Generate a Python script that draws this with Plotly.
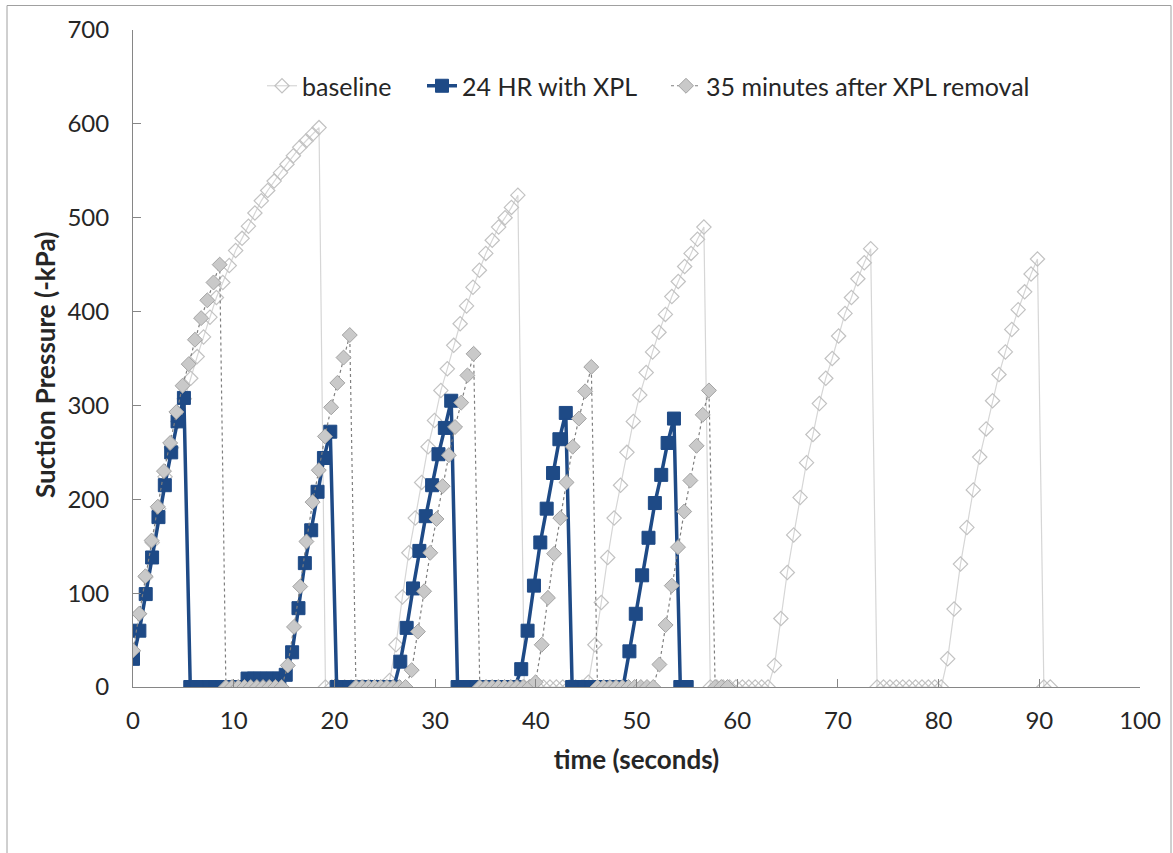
import numpy as np
import plotly.graph_objects as go

# Suction pressure logs (-kPa), one value per recorded sample
baseline_kpa = [
    38, 78, 117, 154, 190, 224, 255, 283, 307, 329, 352, 373, 394, 415, 431,
    449, 465, 478, 491, 505, 518, 529, 539, 548, 557, 566, 575, 582, 589, 596,
    0, 0, 0, 0, 0, 0, 0, 0, 0, 0,
    7, 45, 96, 143, 180, 218, 256, 284, 316, 339, 364, 387, 406, 426, 444,
    462, 476, 490, 500, 511, 524,
    0, 0, 0, 0, 0, 0, 0, 0, 0, 0,
    5, 45, 90, 138, 180, 215, 250, 283, 311, 335, 357, 378, 397, 416, 432,
    448, 462, 477, 490,
    0, 0, 0, 0, 0, 0, 0, 0, 0, 0,
    23, 73, 122, 162, 202, 239, 269, 302, 329, 350, 374, 398, 415, 435, 452, 467,
    0, 0, 0, 0, 0, 0, 0, 0, 0, 0, 0,
    30, 83, 131, 170, 210, 245, 275, 305, 333, 357, 381, 402, 421, 440, 456,
    0, 0,
]

xpl_24hr_kpa = [
    30, 60, 99, 138, 181, 215, 250, 283, 308,
    0, 0, 0, 0, 0, 0, 0, 0, 0,
    9, 9, 9, 9, 9, 9,
    13, 37, 84, 132, 167, 208, 244, 272,
    0, 0, 0, 0, 0, 0, 0, 0, 0, 0,
    27, 63, 105, 145, 182, 215, 248, 276, 305,
    0, 0, 0, 0, 0, 0, 0, 0, 0, 0,
    19, 60, 108, 154, 190, 228, 264, 292,
    0, 0, 0, 0, 0, 0, 0, 0, 0,
    38, 78, 119, 159, 196, 226, 260, 286,
    0, 0,
]

after_removal_kpa = [
    39, 78, 118, 156, 192, 230, 260, 293, 321, 344, 370, 393, 412, 431, 450,
    0, 0, 0, 0, 0, 0, 0, 0, 0, 0,
    23, 64, 107, 155, 197, 231, 267, 298, 324, 351, 375,
    0, 0, 0, 0, 0, 0, 0, 0, 0,
    18, 59, 102, 143, 179, 214, 247, 277, 303, 332, 355,
    0, 0, 0, 0, 0, 0, 0, 0, 0,
    5,
    45, 95, 142, 180, 218, 256, 286, 315, 341,
    0, 0, 0, 0, 0, 0, 0, 0, 0, 0,
    24, 66, 108, 149, 187, 220, 257, 290, 316,
    0, 0, 0,
]

# Logger sample intervals (seconds) for each recording
baseline_dt = 0.637
xpl_24hr_dt = 0.632
after_removal_dt = 0.615

series_names = ["baseline", "24 HR with XPL", "35 minutes after XPL removal"]

x_ticks = [0, 10, 20, 30, 40, 50, 60, 70, 80, 90, 100]
y_ticks = [0, 100, 200, 300, 400, 500, 600, 700]

FONT = "Lato, 'Open Sans', sans-serif"
AXIS_GREY = "#868686"
TEXT = "#262626"
BLUE = "#1E4A86"


def sample_times(values, dt):
    return np.arange(len(values)) * dt


fig = go.Figure()

fig.add_trace(go.Scatter(
    x=sample_times(baseline_kpa, baseline_dt), y=baseline_kpa,
    name=series_names[0], mode="lines+markers", legend="legend",
    line=dict(color="#D6D6D6", width=1.2),
    marker=dict(symbol="diamond-open", size=11, color="#C2C2C2",
                line=dict(color="#C2C2C2", width=1.2)),
))

fig.add_trace(go.Scatter(
    x=sample_times(xpl_24hr_kpa, xpl_24hr_dt), y=xpl_24hr_kpa,
    name=series_names[1], mode="lines+markers", legend="legend2",
    line=dict(color=BLUE, width=3.5),
    marker=dict(symbol="square", size=13, color=BLUE,
                line=dict(color=BLUE, width=1)),
))

fig.add_trace(go.Scatter(
    x=sample_times(after_removal_kpa, after_removal_dt), y=after_removal_kpa,
    name=series_names[2], mode="lines+markers", legend="legend3",
    line=dict(color="#7F7F7F", width=1.2, dash="3px,3px"),
    marker=dict(symbol="diamond", size=11.5, color="#C9C9C9",
                line=dict(color="#A3A3A3", width=1)),
))

# plot area: x 133..1140 px, y 30..687 px
W, H = 1173, 853
L, R, T, B = 133, 33, 30, 166
pw, ph = W - L - R, H - T - B


def px_to_paper(xp, yp):
    return (xp - L) / pw, (H - B - yp) / ph


bx0, by1 = px_to_paper(7, 5.5)
bx1, by0 = px_to_paper(1171, 900)
ax, ay = px_to_paper(0, 3)
ytx, yty = px_to_paper(45, 365)


def legend_at(xp):
    lx, ly = px_to_paper(xp, 86)
    return dict(orientation="h", x=lx, xanchor="left", y=ly, yanchor="middle",
                bgcolor="rgba(0,0,0,0)", font=dict(size=25, color=TEXT))


fig.update_layout(
    width=W, height=H, autosize=False,
    margin=dict(l=L, r=R, t=T, b=B),
    paper_bgcolor="white", plot_bgcolor="white",
    font=dict(family=FONT, size=24, color=TEXT),
    showlegend=True,
    legend=legend_at(262),
    legend2=legend_at(422),
    legend3=legend_at(666),
    xaxis=dict(
        range=[0, 100], tickvals=x_ticks, ticktext=[str(v) for v in x_ticks],
        showgrid=False, zeroline=False, showline=True, linecolor=AXIS_GREY,
        linewidth=1, ticks="inside", ticklen=8, tickcolor=AXIS_GREY,
        ticklabelstandoff=12,
        title=dict(text="<b>time (seconds)</b>", standoff=18,
                   font=dict(size=26)),
    ),
    yaxis=dict(
        range=[0, 700], tickvals=y_ticks, ticktext=[str(v) for v in y_ticks],
        showgrid=False, zeroline=False, showline=True, linecolor=AXIS_GREY,
        linewidth=1, ticks="inside", ticklen=8, tickcolor=AXIS_GREY,
        ticklabelstandoff=18,
    ),
    shapes=[dict(type="rect", xref="paper", yref="paper",
                 x0=bx0, x1=bx1, y0=by0, y1=by1,
                 line=dict(color="#A0A0A0", width=1), layer="below")],
    annotations=[
        dict(text="<b>Suction Pressure (-kPa)</b>", xref="paper", yref="paper",
             x=ytx, y=yty, xanchor="center", yanchor="middle", textangle=-90,
             showarrow=False, font=dict(size=26, color=TEXT)),
        dict(text="<b>(a)</b>", xref="paper", yref="paper",
             x=ax, y=ay, xanchor="left", yanchor="bottom",
             showarrow=False, font=dict(size=26, color="#000000")),
    ],
)

fig.write_html("out.html")
